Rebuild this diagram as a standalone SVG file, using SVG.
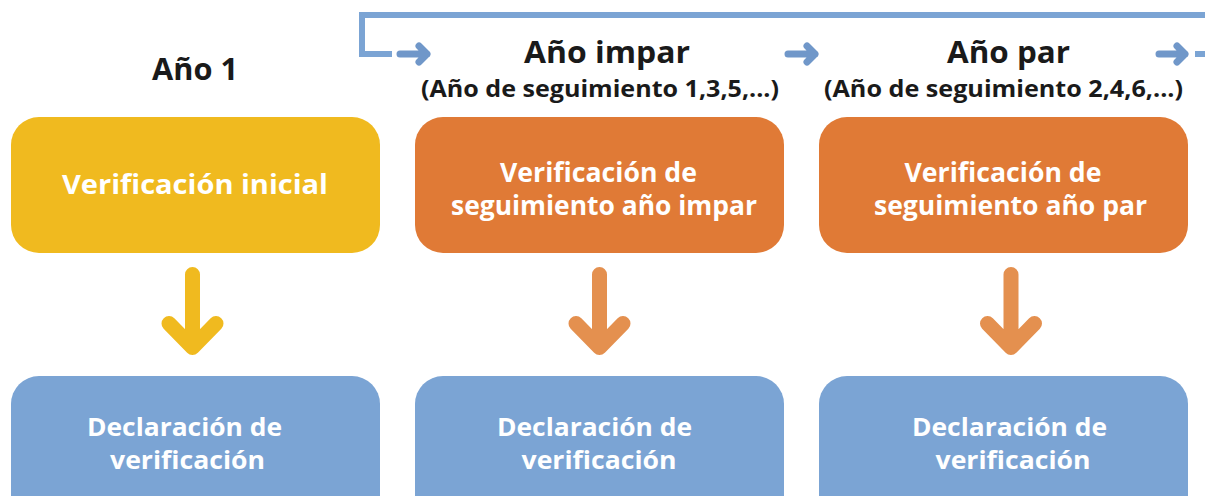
<svg xmlns="http://www.w3.org/2000/svg" width="1205" height="496" viewBox="0 0 1205 496">
<style>
text{font-family:"Open Sans","Noto Sans","DejaVu Sans",sans-serif;font-weight:bold;text-anchor:middle}
.h{fill:#1a1a1a;font-size:31px}
.s{fill:#1a1a1a;font-size:24px}
.w{fill:#fff;font-size:26.5px}
.d{fill:#fff;font-size:25px}
.yel{fill:#F0BA1F}
.org{fill:#E07A36}
.blu{fill:#7BA4D4}
.ar{fill:none;stroke:#7097C9;stroke-width:7;stroke-linecap:round;stroke-linejoin:round}
.dn{fill:none;stroke-width:15;stroke-linecap:round;stroke-linejoin:round}
</style>
<g id="connectors">
<path d="M1205 15 H362 V54 H392" fill="none" stroke="#7BA4D4" stroke-width="6"/>
<path class="ar" d="M400 54 H427 M419 46 L427 54 L419 62"/>
<path class="ar" d="M788 54 H815 M807 46 L815 54 L807 62"/>
<path class="ar" d="M1159 54 H1185 M1177 46 L1185 54 L1177 62"/>
<path d="M1195 54 H1205" stroke="#7BA4D4" stroke-width="6"/>
<path class="dn" stroke="#F0BA1F" d="M192.5 274.5 V347.5 M169 323.5 L192.5 347.5 L216 323.5"/>
<path class="dn" stroke="#E4904F" d="M599.5 274.5 V347.5 M576 323.5 L599.5 347.5 L623 323.5"/>
<path class="dn" stroke="#E4904F" d="M1011 274.5 V347.5 M987.5 323.5 L1011 347.5 L1034.5 323.5"/>
</g>
<g id="h1"><text class="h" x="195" y="80" textLength="86" lengthAdjust="spacingAndGlyphs">Año 1</text></g>
<g id="h2"><text class="h" x="607" y="63" textLength="166" lengthAdjust="spacingAndGlyphs">Año impar</text><text class="s" x="600" y="97" textLength="358" lengthAdjust="spacingAndGlyphs">(Año de seguimiento 1,3,5,...)</text></g>
<g id="h3"><text class="h" x="1008.5" y="63" textLength="123" lengthAdjust="spacingAndGlyphs">Año par</text><text class="s" x="1003.5" y="97" textLength="359" lengthAdjust="spacingAndGlyphs">(Año de seguimiento 2,4,6,...)</text></g>
<g id="n1"><rect class="yel" x="11" y="117" width="369" height="136" rx="28"/><text class="w" x="195" y="194" textLength="266" lengthAdjust="spacingAndGlyphs">Verificación inicial</text></g>
<g id="n2"><rect class="org" x="415" y="117" width="369" height="136" rx="28"/><text class="w" x="598.5" y="182" textLength="197" lengthAdjust="spacingAndGlyphs">Verificación de</text><text class="w" x="604" y="215" textLength="306" lengthAdjust="spacingAndGlyphs">seguimiento año impar</text></g>
<g id="n3"><rect class="org" x="819" y="117" width="369" height="136" rx="28"/><text class="w" x="1003" y="182" textLength="197" lengthAdjust="spacingAndGlyphs">Verificación de</text><text class="w" x="1010.5" y="215" textLength="273" lengthAdjust="spacingAndGlyphs">seguimiento año par</text></g>
<g id="d1"><rect class="blu" x="11" y="376" width="369" height="150" rx="28"/><text class="d" x="184.5" y="436" textLength="195" lengthAdjust="spacingAndGlyphs">Declaración de</text><text class="d" x="187.5" y="469" textLength="155" lengthAdjust="spacingAndGlyphs">verificación</text></g>
<g id="d2"><rect class="blu" x="415" y="376" width="369" height="150" rx="28"/><text class="d" x="594.5" y="436" textLength="195" lengthAdjust="spacingAndGlyphs">Declaración de</text><text class="d" x="599" y="469" textLength="155" lengthAdjust="spacingAndGlyphs">verificación</text></g>
<g id="d3"><rect class="blu" x="819" y="376" width="369" height="150" rx="28"/><text class="d" x="1009.5" y="436" textLength="195" lengthAdjust="spacingAndGlyphs">Declaración de</text><text class="d" x="1013" y="469" textLength="155" lengthAdjust="spacingAndGlyphs">verificación</text></g>
</svg>
